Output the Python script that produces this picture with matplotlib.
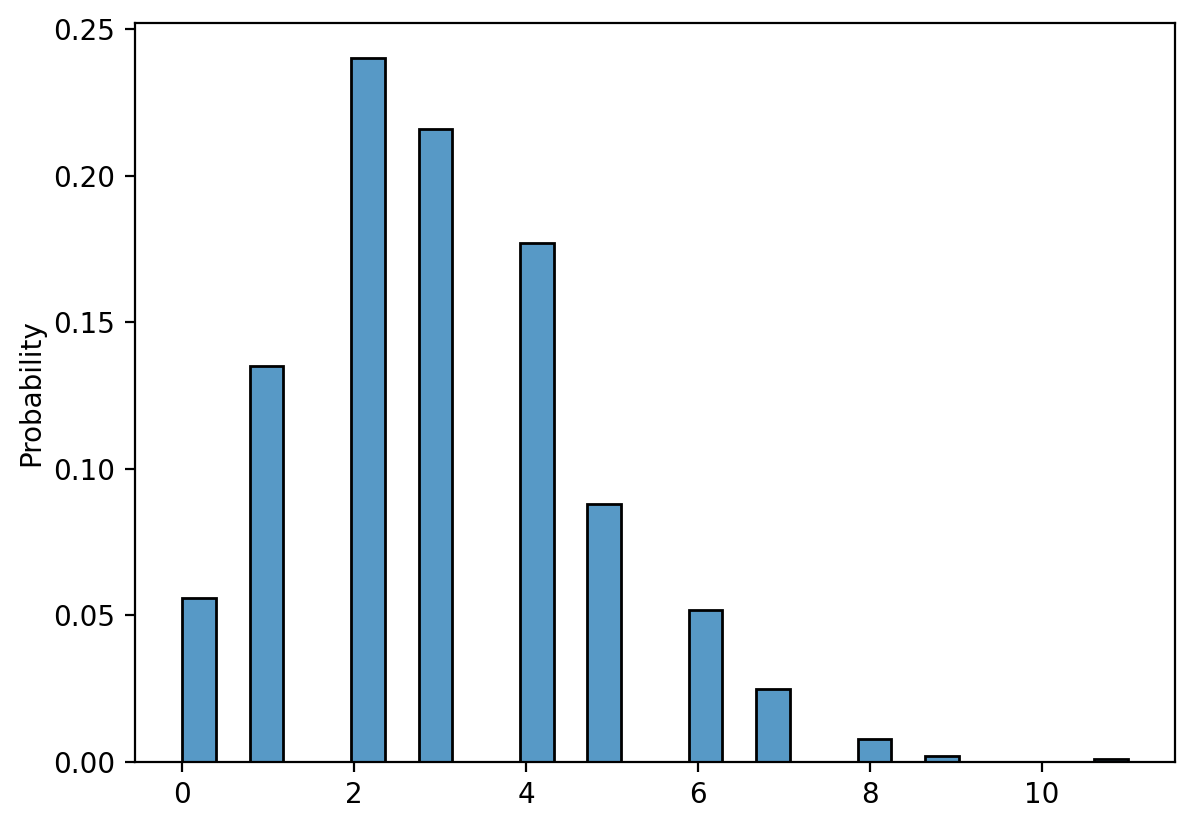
import matplotlib
matplotlib.use("Agg")
import matplotlib.pyplot as plt
from matplotlib.colors import to_rgba

# outcome values and their observed probabilities
values = [0, 1, 2, 3, 4, 5, 6, 7, 8, 9, 10, 11]
probs = [0.056, 0.135, 0.240, 0.216, 0.177, 0.088, 0.052, 0.025, 0.008, 0.002, 0.0, 0.001]

n_bins = 28

fig, ax = plt.subplots(figsize=(5.97, 4.13), dpi=200)
fig.subplots_adjust(left=0.113, right=0.984, top=0.972, bottom=0.0775)

# translucent fill, solid black edges (seaborn histplot look)
ax.hist(values, bins=n_bins, range=(min(values), max(values)), weights=probs,
        facecolor=to_rgba("#1f77b4", 0.75), edgecolor="black", linewidth=1.0)

ax.set_ylabel("Probability", labelpad=3)

fig.savefig("out.png", dpi=200)
